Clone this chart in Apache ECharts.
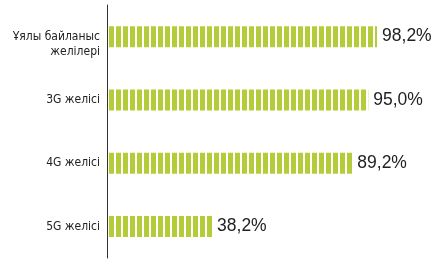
<!DOCTYPE html>
<html>
<head>
<meta charset="utf-8">
<script src="https://cdn.jsdelivr.net/npm/echarts@6/dist/echarts.min.js"></script>
<style>
  html, body { margin: 0; padding: 0; background: #fff; }
  #chart { width: 447px; height: 264px; }
</style>
</head>
<body>
<div id="chart"></div>
<script>
// желілер бойынша қамту
const categories = ['Ұялы байланыс\nжелілері', '3G желісі', '4G желісі', '5G желісі'];
const values = [98.2, 95.0, 89.2, 38.2];
const valueLabels = ['98,2%', '95,0%', '89,2%', '38,2%'];

// жолақты толтыру: 5px жасыл, 2px бос
const stripe = document.createElement('canvas');
stripe.width = 7;
stripe.height = 4;
const ctx = stripe.getContext('2d');
ctx.fillStyle = '#b5cc3a';
ctx.fillRect(0, 0, 2, 4);
ctx.fillRect(4, 0, 3, 4);

const chart = echarts.init(document.getElementById('chart'));

chart.setOption({
  animation: false,
  grid: {
    left: 107,
    top: 5,
    width: 275,
    height: 253
  },
  xAxis: {
    type: 'value',
    min: 0,
    max: 100,
    show: false
  },
  yAxis: {
    type: 'category',
    data: categories,
    inverse: true,
    axisLine: { show: true, lineStyle: { color: '#333', width: 1 } },
    axisTick: { show: false },
    axisLabel: {
      color: '#222',
      fontFamily: '"Liberation Sans Narrow", "DejaVu Sans Condensed", sans-serif',
      fontSize: 12,
      lineHeight: 15,
      margin: 7,
      align: 'right',
      // екі жолды белгінің бірінші жолы жолақпен қатар тұрсын
      formatter: v => (v.indexOf('\n') >= 0 ? '\n' + v : v)
    }
  },
  series: [
    {
      type: 'bar',
      data: values,
      barWidth: 21,
      itemStyle: {
        color: { image: stripe, repeat: 'repeat' }
      },
      label: {
        show: true,
        position: 'right',
        distance: 5,
        color: '#222',
        fontFamily: '"Liberation Sans", Arial, sans-serif',
        fontSize: 17.5,
        formatter: p => valueLabels[p.dataIndex]
      }
    }
  ]
});
</script>
</body>
</html>
